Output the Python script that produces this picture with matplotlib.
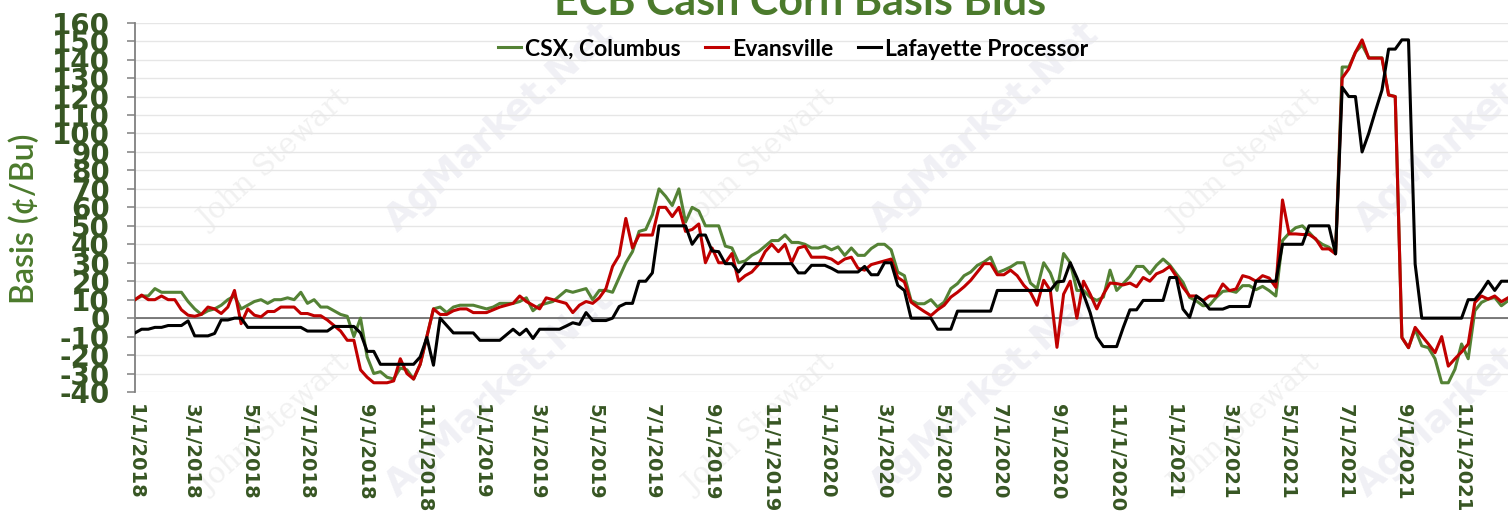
#!/usr/bin/env python3
"""
ECB cash corn basis bids, weekly, 2018-2021 -> out.png
"""
import pandas as pd
import matplotlib
matplotlib.use("Agg")
import matplotlib.pyplot as plt

START = "2018-01-01"

# weekly basis bids, cents/bu, one value per week from START
CSX_COLUMBUS = [
    10, 12, 12, 16, 14, 14, 14, 14, 9, 5, 2, 4, 5, 7, 10, 12, 5, 7, 9, 10,
    8, 10, 10, 11, 10, 14, 8, 10, 6, 6, 4, 2, 1, -10, 0, -21, -30, -29, -32, -33,
    -27, -28, -33, -25, -10, 5, 6, 3, 6, 7, 7, 7, 6,
    5, 6, 8, 8, 8, 9, 11, 4, 7, 8, 9, 12, 15, 14, 15, 16, 10, 15, 15, 14,
    22, 30, 36, 47, 48, 56, 70, 66, 61, 70, 52, 60, 58, 50, 50, 50, 39, 38, 30, 31,
    34, 36, 39, 42, 42, 45, 41, 41, 40, 38, 38, 39, 37,
    38.6, 34, 38, 34, 34, 37.7, 40, 40, 37, 25, 23, 9.6, 7.8, 7.8, 10, 6, 8.7, 16, 18.7, 23,
    25, 28.6, 30.4, 33, 24.6, 26, 27.7, 30, 30, 19, 16, 30, 24.5, 15, 35, 30, 15, 15, 11.4, 9.6,
    11.4, 26, 15, 18.7, 22.6, 28, 28, 24, 28.6, 32,
    28.8, 24, 19.4, 11.2, 9.4, 6.7, 7, 11.2, 14.5, 14.9, 14, 17.6, 17.6, 15.4, 17.2, 14.9, 12,
    42, 46, 49, 50, 46.5, 42.6, 40, 38.4, 35, 136, 136, 144, 148, 141, 141, 141, 121, 120,
    -10.5, -16, -6, -15, -16, -22, -35, -35, -27.7, -14, -22, 4, 8.5, 10.3, 11.2, 6.7, 9.4,
]
EVANSVILLE = [
    10, 12.5, 10, 10, 12, 10, 10, 4.5, 1.6, 1, 2, 6, 5, 2.5, 6, 15, -3, 5, 1.6, 0.7,
    3.6, 3.6, 6, 6, 6, 2.5, 2.5, 1.3, 1.3, -1, -4, -7, -12, -12, -28, -32, -35, -35, -35, -34,
    -22, -30, -33, -25, -10, 5, 2, 2, 4, 5, 5, 3, 3,
    3, 4.5, 6, 7, 8, 12, 9, 7, 5, 11, 10, 9, 8, 3, 7, 9, 8, 11, 16, 28,
    34, 54, 38, 45, 45, 45, 60, 60, 55, 60, 47, 48, 51, 30, 38, 30, 30, 35, 20, 23,
    25, 29, 36, 40, 36, 40, 30, 38, 39, 33, 33, 33, 32,
    29.5, 32, 33, 27, 26, 29, 30, 31, 32, 22, 19.6, 8.7, 6, 3.6, 1.4, 4.5, 7, 11.4, 14, 17,
    20.5, 25, 29.5, 29.5, 23.5, 23.5, 26, 23, 17.8, 14, 7, 20.5, 15, -15.8, 13, 20, 0, 20, 13, 5,
    13, 19, 18.7, 18, 19, 17, 22, 20, 24, 25.5,
    28, 22.6, 16.7, 12, 12, 9.4, 12, 12, 18.5, 14.9, 15.8, 23, 22, 20, 23, 21.7, 16.7,
    64, 45.6, 45.6, 45.3, 45.3, 43, 37.5, 37.5, 34.8, 130, 135, 144, 150.7, 140.8, 140.8, 140.8, 120.8, 120,
    -10.5, -16, -5, -9.6, -14, -18.7, -10, -26, -22, -18.3, -14, 8.5, 12, 10.3, 12, 8.9, 11,
]
LAFAYETTE = [
    -8, -6, -6, -5, -5, -4, -4, -4, -1.5, -9.6, -9.6, -9.6, -8.3, -1, -1, 0, 0, -5, -5, -5,
    -5, -5, -5, -5, -5, -5, -7, -7, -7, -7, -4.5, -4.5, -4.5, -4.5, -8, -18, -18, -25, -25, -25,
    -25, -25, -25, -21, -10.5, -25.5, 0, -4, -8, -8, -8, -8, -12,
    -12, -12, -12, -9, -6, -9, -6, -11, -6, -6, -6, -6, -4.3, -2.5, -3.4, 3, -1.3, -1.3, -1.3, 0,
    6.3, 8, 8, 20, 20, 24.5, 50, 50, 50, 50, 50, 40, 45, 45, 36.4, 36, 29.5, 29.5, 25, 29.5,
    29.5, 29.5, 29.5, 29.5, 29.5, 29.5, 29.5, 24.5, 24.5, 28.6, 28.6, 28.6, 27,
    25, 25, 25, 25, 28, 23.5, 23.5, 30, 30, 17.8, 15, 0, 0, 0, 0, -6, -6, -6, 3.8, 3.8,
    3.8, 3.8, 3.8, 3.8, 15, 15, 15, 15, 15, 15, 15, 15, 15, 19.6, 20, 30, 22, 13, 3, -10.3,
    -15.4, -15.4, -15.4, -5, 4.5, 4.5, 9.6, 9.6, 9.6, 9.6,
    22, 22, 4.9, 0.4, 12, 9.4, 4.9, 4.9, 4.9, 6.3, 6.3, 6.3, 6.3, 20, 20, 20, 20,
    40, 40, 40, 40, 50, 50, 50, 50, 34.8, 125, 120, 120, 90, 100, 112, 123.5, 145.7, 145.7,
    150.7, 150.7, 29.3, 0, 0, 0, 0, 0, 0, 0, 10, 10, 14.5, 20, 15, 20, 20,
]
SERIES = ["CSX, Columbus", "Evansville", "Lafayette Processor"]
COLORS = ["#548235", "#C00000", "#000000"]

GREEN_DARK = "#375623"
GREEN_TITLE = "#4B7A2C"


def main():
    plt.rcParams["axes.unicode_minus"] = False
    dates = pd.date_range(START, periods=len(CSX_COLUMBUS), freq="7D")
    W, H = 1508, 524
    fig = plt.figure(figsize=(W / 100, H / 100), dpi=100)
    ax = fig.add_axes([135 / W, 1 - 392 / H, (W - 135) / W, (392 - 22.7) / H])

    # faint watermark tiles, kept under the lines
    for y0 in (127, 392):
        for x0 in (500, 985, 1470):
            ax.text(x0 / W, 1 - y0 / H, "AgMarket.Net", rotation=42, ha="center", va="center",
                    fontsize=27, fontweight="bold", family="DejaVu Sans", color="#f0f0f5",
                    transform=fig.transFigure, zorder=0.5, clip_on=False)
    for y0 in (160, 425):
        for x0 in (275, 760, 1245):
            ax.text(x0 / W, 1 - y0 / H, "John Stewart", rotation=42, ha="center", va="center",
                    fontsize=21, family="DejaVu Serif", color="#f1f1f1",
                    transform=fig.transFigure, zorder=0.5, clip_on=False)

    for vals, name, col in zip([CSX_COLUMBUS, EVANSVILLE, LAFAYETTE], SERIES, COLORS):
        ax.plot(dates, vals, color=col, lw=2.2, label=name, zorder=3)

    ax.set_facecolor("none")
    ax.set_ylim(-40, 160)
    ax.set_xlim(pd.Timestamp(START), pd.Timestamp("2021-12-20"))
    ax.set_yticks(range(-40, 161, 10))
    ax.grid(axis="y", color="#e6e6e6", lw=1.0, zorder=1)
    ax.axhline(0, color="#595959", lw=1.1, zorder=2)
    for s in ("top", "right", "bottom"):
        ax.spines[s].set_visible(False)
    ax.spines["left"].set_color("#808080")
    ax.spines["left"].set_linewidth(1.3)
    ax.tick_params(axis="y", length=6, width=1.1, color="#808080", pad=12,
                   labelcolor=GREEN_DARK)
    for lab in ax.get_yticklabels():
        lab.set_family(["Liberation Sans Narrow", "DejaVu Sans"])
        lab.set_fontsize(20)
        lab.set_fontweight("bold")

    ticks = pd.date_range(START, "2021-11-01", freq="2MS")
    ax.set_xticks(ticks)
    ax.set_xticklabels([f"{d.month}/{d.day}/{d.year}" for d in ticks], rotation=270,
                       fontsize=14, fontweight="bold", color=GREEN_DARK,
                       family="DejaVu Sans", va="top", ha="center")
    ax.tick_params(axis="x", length=0, pad=9)

    fig.text(800 / W, 1 - 15 / H, "ECB Cash Corn Basis Bids", ha="center", va="baseline",
             fontsize=31, fontweight="bold", family="Lato", color=GREEN_TITLE)
    fig.text(25 / W, 1 - 219 / H, "Basis (¢/Bu)", rotation=90, ha="center", va="center",
             fontsize=23, fontweight="semibold", family="Lato", color=GREEN_TITLE)

    leg = ax.legend(loc="center", bbox_to_anchor=(793 / W, 1 - 49 / H),
                    bbox_transform=fig.transFigure, ncol=3, frameon=False,
                    prop={"family": "Lato", "weight": "bold", "size": 16.5},
                    handlelength=1.0, handletextpad=0.15, columnspacing=1.1)
    for line in leg.get_lines():
        line.set_linewidth(2.2)

    fig.savefig("out.png", dpi=100)
    print("Saved out.png")


if __name__ == "__main__":
    main()
